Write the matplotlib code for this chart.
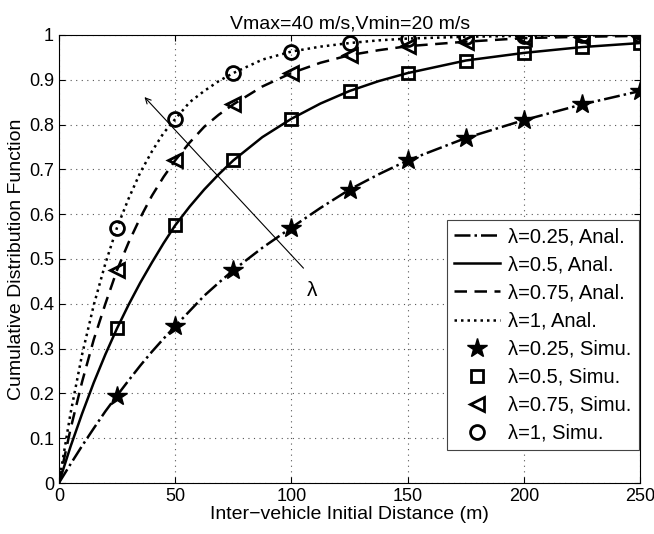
import numpy as np
import matplotlib
matplotlib.use("Agg")
import matplotlib.pyplot as plt

plt.rcParams["font.family"] = ["Liberation Sans", "DejaVu Sans"]

# analytical curves
x_anal = [0, 5, 10, 15, 20, 25, 30, 35, 40, 45, 50, 56.25, 62.5, 68.75, 75, 87.5, 100,
          112.5, 125, 137.5, 150, 175, 200, 225, 250]
cdf_025 = [0, 0.042, 0.083, 0.122, 0.16, 0.195, 0.229, 0.262, 0.293, 0.322, 0.35, 0.384,
           0.418, 0.447, 0.475, 0.525, 0.57, 0.614, 0.655, 0.689, 0.72, 0.77, 0.81, 0.845, 0.875]
cdf_05 = [0, 0.081, 0.155, 0.224, 0.287, 0.345, 0.398, 0.447, 0.492, 0.535, 0.575, 0.617,
          0.655, 0.689, 0.72, 0.772, 0.813, 0.847, 0.875, 0.897, 0.915, 0.943, 0.96, 0.973, 0.982]
cdf_075 = [0, 0.12, 0.226, 0.32, 0.40, 0.475, 0.537, 0.592, 0.641, 0.683, 0.72, 0.76,
           0.795, 0.822, 0.845, 0.885, 0.915, 0.938, 0.955, 0.966, 0.975, 0.985, 0.993, 0.996, 0.998]
cdf_1 = [0, 0.155, 0.287, 0.397, 0.49, 0.57, 0.635, 0.693, 0.74, 0.781, 0.812, 0.85,
         0.875, 0.897, 0.915, 0.945, 0.963, 0.974, 0.982, 0.988, 0.992, 0.996, 0.998, 0.999, 1.0]

# simulation points
x_simu = [25, 50, 75, 100, 125, 150, 175, 200, 225, 250]
simu_025 = [0.195, 0.35, 0.475, 0.57, 0.655, 0.72, 0.77, 0.81, 0.845, 0.875]
simu_05 = [0.345, 0.575, 0.72, 0.813, 0.875, 0.915, 0.943, 0.96, 0.973, 0.982]
simu_075 = [0.475, 0.72, 0.845, 0.915, 0.955, 0.975, 0.985, 0.993, 0.996, 0.998]
simu_1 = [0.57, 0.812, 0.915, 0.963, 0.982, 0.992, 0.996, 0.998, 0.999, 1.0]

fig = plt.figure(figsize=(6.54, 5.34), dpi=100)
ax = fig.add_axes([0.090, 0.0955, 0.889, 0.839])

lw = 1.8
ax.plot(x_anal, cdf_025, color="k", linestyle="-.", linewidth=lw, label="λ=0.25, Anal.")
ax.plot(x_anal, cdf_05, color="k", linestyle="-", linewidth=lw, label="λ=0.5, Anal.")
ax.plot(x_anal, cdf_075, color="k", linestyle=(0, (5, 3)), linewidth=lw, label="λ=0.75, Anal.")
ax.plot(x_anal, cdf_1, color="k", linestyle=(0, (1, 1.6)), linewidth=lw, label="λ=1, Anal.")

ax.plot(x_simu, simu_025, linestyle="none", marker="*", markersize=15,
        markerfacecolor="k", markeredgecolor="k", label="λ=0.25, Simu.")
ax.plot(x_simu, simu_05, linestyle="none", marker="s", markersize=8, markeredgewidth=2,
        markerfacecolor="none", markeredgecolor="k", label="λ=0.5, Simu.")
ax.plot(x_simu, simu_075, linestyle="none", marker="<", markersize=10, markeredgewidth=2,
        markerfacecolor="none", markeredgecolor="k", label="λ=0.75, Simu.")
ax.plot(x_simu, simu_1, linestyle="none", marker="o", markersize=10, markeredgewidth=2,
        markerfacecolor="none", markeredgecolor="k", label="λ=1, Simu.")

# arrow showing increasing lambda
ax.annotate("", xy=(36, 0.866), xytext=(106, 0.475),
            arrowprops=dict(arrowstyle="->", color="k", linewidth=0.8))
ax.text(109, 0.43, "λ", fontsize=15, ha="center", va="center")

ax.set_xlim(0, 250)
ax.set_ylim(0, 1)
ax.set_xticks(np.arange(0, 251, 50))
ax.set_yticks(np.arange(0, 1.01, 0.1))
ax.set_yticklabels(["0", "0.1", "0.2", "0.3", "0.4", "0.5", "0.6", "0.7", "0.8", "0.9", "1"])
ax.tick_params(direction="in", top=True, right=True, labelsize=13, length=4)
ax.grid(True, color="#555555", linestyle=(0, (1, 4)), linewidth=0.8)
for s in ax.spines.values():
    s.set_linewidth(0.8)

ax.set_xlabel("Inter−vehicle Initial Distance (m)", fontsize=14, labelpad=1)
ax.set_ylabel("Cumulative Distribution Function", fontsize=14, labelpad=3)
ax.set_title("Vmax=40 m/s,Vmin=20 m/s", fontsize=14, pad=5)

leg = ax.legend(loc="lower right", bbox_to_anchor=(0.997, 0.074), fontsize=14.5,
                fancybox=False, framealpha=1, edgecolor="#444444",
                handlelength=2.3, borderpad=0.35, labelspacing=0.45, handletextpad=0.4,
                borderaxespad=0)
leg.get_frame().set_linewidth(0.8)

fig.savefig("out.png", dpi=100)
